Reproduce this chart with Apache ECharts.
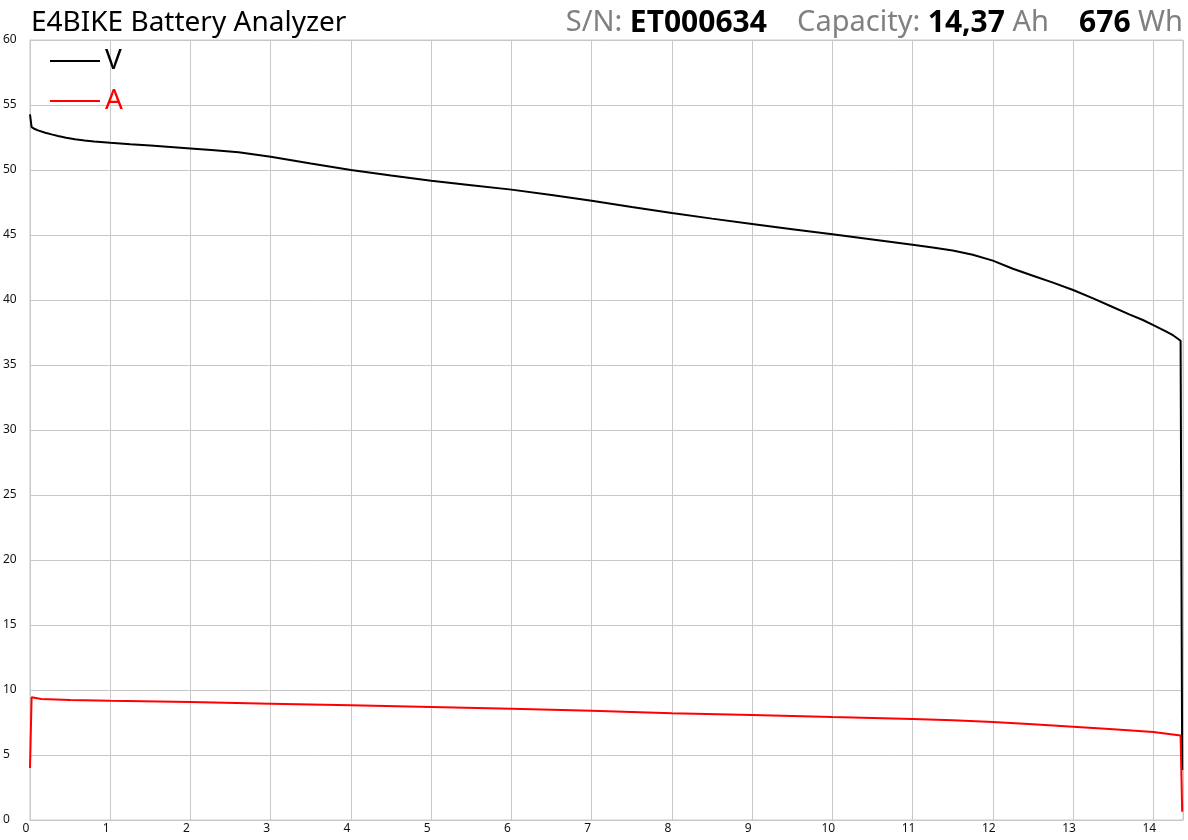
<!DOCTYPE html>
<html>
<head>
<meta charset="utf-8">
<script src="https://cdn.jsdelivr.net/npm/echarts@6/dist/echarts.min.js"></script>
<style>html,body{margin:0;padding:0;background:#fff}#c{width:1188px;height:840px}</style>
</head>
<body>
<div id="c"></div>
<script>
// Capacity (Ah) on x axis
const voltageAh = [0, 0.02, 0.06, 0.1, 0.19, 0.28, 0.35, 0.45, 0.56, 0.68, 0.8, 1.0, 1.25, 1.5, 1.75, 2.0, 2.3, 2.6, 2.8, 3.0, 3.5, 4.0, 4.5, 5, 5.5, 6, 6.5, 7, 7.5, 8, 8.5, 9, 9.5, 10, 10.5, 11, 11.25, 11.5, 11.75, 12, 12.25, 12.5, 12.75, 13, 13.25, 13.5, 13.7, 13.87, 14.0, 14.15, 14.25, 14.34, 14.36];
const voltageV  = [54.28, 53.3, 53.15, 53.05, 52.87, 52.72, 52.62, 52.48, 52.36, 52.27, 52.2, 52.1, 51.98, 51.88, 51.77, 51.66, 51.52, 51.36, 51.2, 51.02, 50.5, 50.0, 49.57, 49.18, 48.83, 48.49, 48.08, 47.64, 47.16, 46.69, 46.26, 45.85, 45.45, 45.05, 44.65, 44.25, 44.04, 43.8, 43.48, 43.03, 42.4, 41.87, 41.34, 40.77, 40.12, 39.44, 38.9, 38.46, 38.07, 37.6, 37.27, 36.87, 3.85];
const currentAh = [0, 0.02, 0.14, 0.5, 1, 2, 3, 4, 5, 6, 7, 8, 9, 10, 11, 11.5, 12, 12.5, 13, 13.5, 14, 14.34, 14.36];
const currentA  = [4.0, 9.44, 9.31, 9.24, 9.18, 9.08, 8.95, 8.82, 8.69, 8.56, 8.41, 8.21, 8.08, 7.92, 7.77, 7.67, 7.54, 7.37, 7.18, 6.98, 6.77, 6.5, 0.64];
const yTicks = [0, 5, 10, 15, 20, 25, 30, 35, 40, 45, 50, 55, 60];
const xTicks = [0, 1, 2, 3, 4, 5, 6, 7, 8, 9, 10, 11, 12, 13, 14];
const titleText = 'E4BIKE Battery Analyzer';
const serialNo = 'ET000634';
const capacityAh = '14,37';
const energyWh = '676';
const xMax = 14.37;

const FONT = '"Noto Sans", "Open Sans", sans-serif';
const zip = (xs, ys) => xs.map((x, i) => [x, ys[i]]);

const chart = echarts.init(document.getElementById('c'), null, {renderer: 'canvas'});
chart.setOption({
  animation: false,
  backgroundColor: '#fff',
  title: [
    {
      text: titleText, left: 26, top: 4,
      textStyle: {fontFamily: FONT, fontSize: 28, fontWeight: 'normal', color: '#000'}
    },
    {
      text: '{g|S/N: }{b|' + serialNo + '}{g|    Capacity: }{b|' + capacityAh + '}{g| Ah    }{b|' + energyWh + '}{g| Wh}',
      right: 0, top: 3,
      textStyle: {
        fontFamily: FONT, fontSize: 29, fontWeight: 'normal',
        rich: {
          g: {fontFamily: FONT, fontSize: 29, color: '#808080', fontWeight: 'normal'},
          b: {fontFamily: FONT, fontSize: 30, color: '#000', fontWeight: 'bold'}
        }
      }
    }
  ],
  legend: {
    orient: 'vertical', left: 45, top: 36,
    itemWidth: 50, itemHeight: 2, itemGap: 0,
    textStyle: {fontFamily: FONT, fontSize: 28, lineHeight: 40, color: 'inherit'},
    data: [{name: 'V', icon: 'rect'}, {name: 'A', icon: 'rect'}]
  },
  grid: {left: 30, right: 5, top: 40, bottom: 20, show: true, borderColor: '#c8c8c8', borderWidth: 1},
  xAxis: {
    type: 'value', min: 0, max: xMax, interval: 1,
    axisLine: {show: true, lineStyle: {color: '#c8c8c8'}},
    axisTick: {show: false},
    splitLine: {show: true, lineStyle: {color: '#c8c8c8', width: 1}},
    axisLabel: {
      showMaxLabel: false, margin: 3, padding: [0, 8, 0, 0],
      fontFamily: FONT, fontSize: 12, color: '#111',
      formatter: v => xTicks.includes(v) ? String(v) : ''
    }
  },
  yAxis: {
    type: 'value', min: 0, max: 60, interval: 5,
    axisLine: {show: true, lineStyle: {color: '#c8c8c8'}},
    axisTick: {show: false},
    splitLine: {show: true, lineStyle: {color: '#c8c8c8', width: 1}},
    axisLabel: {
      align: 'left', margin: 27, padding: [7, 0, 0, 0],
      fontFamily: FONT, fontSize: 12, color: '#111',
      formatter: v => yTicks.includes(v) ? String(v) : ''
    }
  },
  series: [
    {
      name: 'V', type: 'line', data: zip(voltageAh, voltageV),
      symbol: 'none', smooth: false,
      lineStyle: {color: '#000', width: 2}, itemStyle: {color: '#000'}
    },
    {
      name: 'A', type: 'line', data: zip(currentAh, currentA),
      symbol: 'none', smooth: false,
      lineStyle: {color: '#ff0000', width: 2}, itemStyle: {color: '#ff0000'}
    }
  ]
});
</script>
</body>
</html>
